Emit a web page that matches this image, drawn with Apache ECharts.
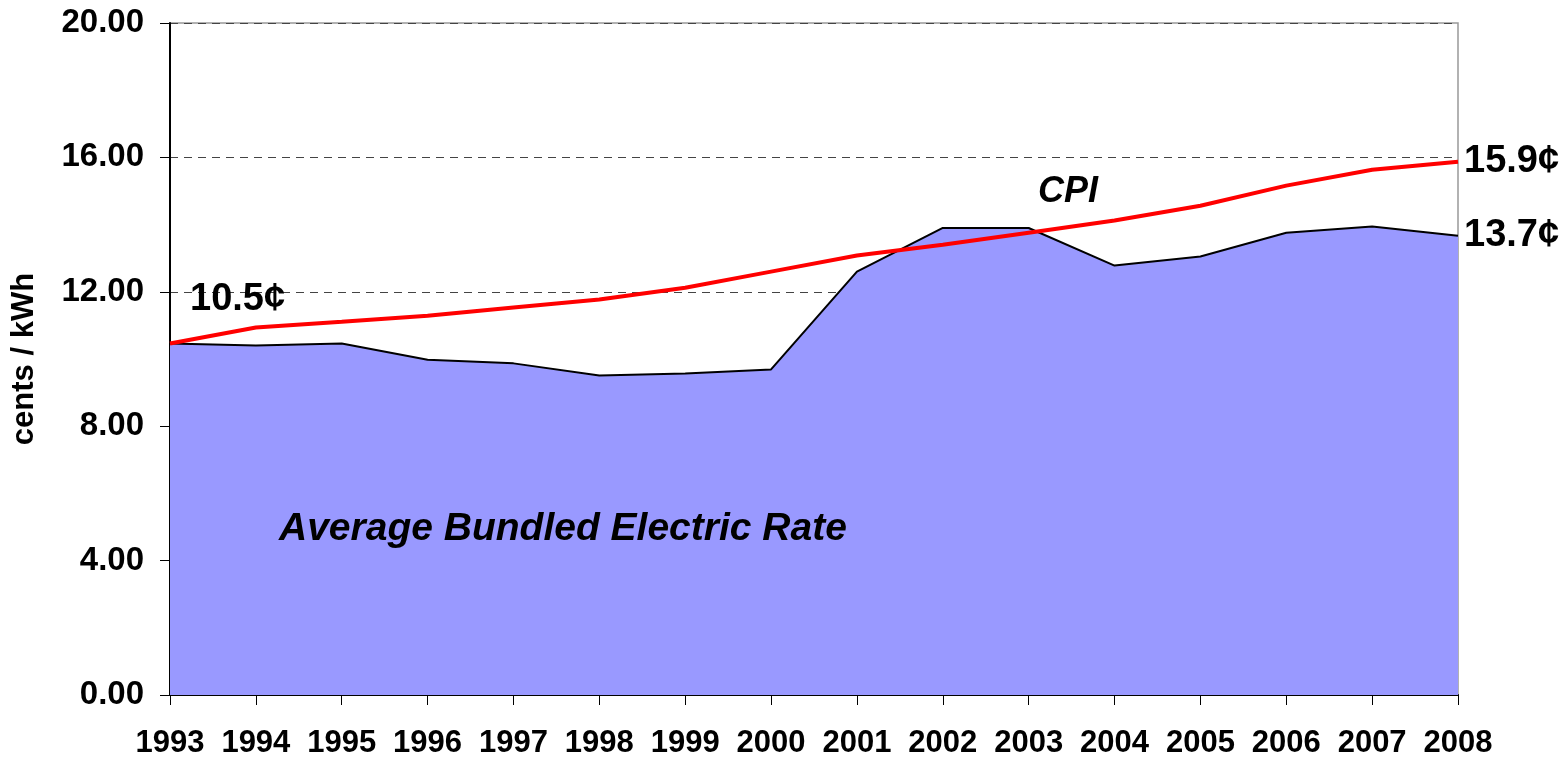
<!DOCTYPE html>
<html>
<head>
<meta charset="utf-8">
<script src="https://cdn.jsdelivr.net/npm/echarts@6/dist/echarts.min.js"></script>
<style>
  html, body { margin: 0; padding: 0; background: #fff; }
  #chart { width: 1568px; height: 760px; }
</style>
</head>
<body>
<div id="chart"></div>
<script>
  const years = ["1993", "1994", "1995", "1996", "1997", "1998", "1999", "2000",
    "2001", "2002", "2003", "2004", "2005", "2006", "2007", "2008"];
  const bundledRate = [10.46, 10.40, 10.46, 9.98, 9.87, 9.51, 9.57, 9.69,
    12.6, 13.9, 13.9, 12.78, 13.05, 13.76, 13.94, 13.67];
  const cpi = [10.46, 10.94, 11.11, 11.29, 11.53, 11.77, 12.12, 12.6,
    13.08, 13.4, 13.76, 14.12, 14.56, 15.16, 15.63, 15.87];

  const font = "Liberation Sans, Arial, sans-serif";
  const chart = echarts.init(document.getElementById("chart"));

  chart.setOption({
    animation: false,
    grid: {
      left: 170, right: 110, top: 23, bottom: 65,
      outerBoundsMode: "none", containLabel: false,
      show: true, borderColor: "#999", borderWidth: 1.5
    },
    xAxis: {
      type: "category",
      data: years,
      boundaryGap: false,
      axisLine: { lineStyle: { color: "#000", width: 2 } },
      axisTick: { show: true, inside: false, length: 10, alignWithLabel: true, lineStyle: { color: "#000" } },
      axisLabel: { color: "#000", fontWeight: "bold", fontSize: 31, fontFamily: font, margin: 33, interval: 0, hideOverlap: false },
      splitLine: { show: false }
    },
    yAxis: {
      type: "value",
      min: 0,
      max: 20,
      interval: 4,
      name: "cents / kWh",
      nameLocation: "middle",
      nameGap: 130,
      nameTextStyle: { color: "#000", fontWeight: "bold", fontSize: 31, fontFamily: font },
      axisLine: { show: true, lineStyle: { color: "#000", width: 2 } },
      axisTick: { show: true, length: 10, lineStyle: { color: "#000" } },
      axisLabel: {
        color: "#000", fontWeight: "bold", fontSize: 33, fontFamily: font, margin: 26,
        formatter: v => v.toFixed(2)
      },
      splitLine: { show: true, lineStyle: { color: "#444", type: [8, 6], width: 1 } }
    },
    series: [
      {
        name: "Average Bundled Electric Rate",
        type: "line",
        data: bundledRate,
        symbol: "none",
        lineStyle: { color: "#000", width: 2 },
        areaStyle: { color: "#9999FF", opacity: 1 },
        endLabel: {
          show: true, formatter: "13.7¢", color: "#000", fontWeight: "bold",
          fontSize: 38, fontFamily: font, distance: 6
        },
        z: 2
      },
      {
        name: "CPI",
        type: "line",
        data: cpi,
        symbol: "none",
        lineStyle: { color: "#FF0000", width: 4 },
        endLabel: {
          show: true, formatter: "15.9¢", color: "#000", fontWeight: "bold",
          fontSize: 38, fontFamily: font, distance: 6
        },
        z: 3
      }
    ],
    graphic: [
      {
        type: "text", left: 190, top: 281, z: 100,
        style: { text: "10.5¢", fill: "#000", font: "bold 38px " + font }
      },
      {
        type: "text", left: 1038, top: 174, z: 100,
        style: { text: "CPI", fill: "#000", font: "italic bold 36px " + font }
      },
      {
        type: "text", left: 279, top: 510, z: 100,
        style: { text: "Average Bundled Electric Rate", fill: "#000", font: "italic bold 39px " + font }
      }
    ]
  });
</script>
</body>
</html>
